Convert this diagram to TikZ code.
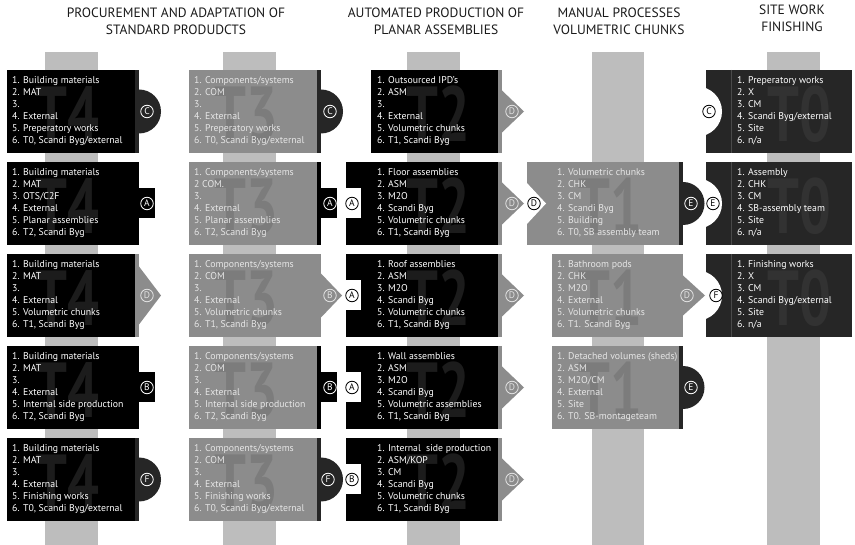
\documentclass[tikz,border=0pt]{standalone}
\usepackage{fontspec}
\usepackage{graphicx}
\setmainfont{PT Sans}
\definecolor{cBlk}{HTML}{000000}
\definecolor{cDark}{HTML}{262626}
\definecolor{cGrey}{HTML}{8C8C8C}
\definecolor{cBar}{HTML}{BDBDBD}
\definecolor{cBigB}{HTML}{1C1C1C}
\definecolor{cBigG}{HTML}{7C7C7C}
\definecolor{cBigD}{HTML}{323232}
\definecolor{cTxtG}{HTML}{E6E6E6}
\definecolor{cLight}{HTML}{E2E2E2}
\definecolor{cHdr}{HTML}{1A1A1A}
\definecolor{cSep}{HTML}{4A4A4A}
\newcommand\sixl[6]{\begin{tabular}[t]{@{}l@{}}#1\\#2\\#3\\#4\\#5\\#6\end{tabular}}
\newcommand\bigt[1]{\scalebox{0.72}[1]{\bfseries #1}}
\newcommand\Bx[4]{\fill[#4] (#1,#3) rectangle (#2,#3+83);}
\newcommand\Strip[3]{\fill[#3] (#1-4,#2) rectangle (#1,#2+83);}
\newcommand\mysemi[4]{\begin{scope}\clip (#1,#2-26) rectangle (#1+26,#2+26);\fill[#4] (#1,#2) circle[radius=#3pt];\end{scope}}
\newcommand\myrect[3]{\fill[#3] (#1,#2-15) rectangle (#1+16,#2+15);}
\newcommand\mychev[5]{\fill[#5] (#1,#2-#3) -- (#1+#4,#2) -- (#1,#2+#3) -- cycle;}
\newcommand\nsemi[2]{\begin{scope}\clip (706,#1) rectangle (760,#1+83);\fill[white] (697,#2) circle[radius=25pt];\end{scope}}
\newcommand\nrect[1]{\fill[white] (345,#1-15) rectangle (361,#1+15);}
\begin{document}
\begin{tikzpicture}[x=1pt,y=-1pt,
  txt/.style={inner sep=0pt, anchor=base west, font=\fontsize{9.8}{12}\selectfont},
  big/.style={inner sep=0pt, anchor=base, font=\fontsize{78}{78}\selectfont},
  hdr/.style={inner sep=0pt, anchor=base, font=\fontsize{13.5}{17}\selectfont, text=cHdr},
  cl/.style={circle, draw=#1, text=#1, inner sep=0pt, minimum size=12.5pt, line width=0.8pt, font=\fontsize{9.5}{9.5}\selectfont}]
\useasboundingbox[fill=white] (0,0) rectangle (855,545);
% headers
\node[hdr] (h1) at (176,18) {\begin{tabular}[t]{@{}c@{}}PROCUREMENT AND ADAPTATION OF\\STANDARD PRODUDCTS\end{tabular}};
\node[hdr] (h2) at (436,18) {\begin{tabular}[t]{@{}c@{}}AUTOMATED PRODUCTION OF\\PLANAR ASSEMBLIES\end{tabular}};
\node[hdr] (h3) at (619,18) {\begin{tabular}[t]{@{}c@{}}MANUAL PROCESSES\\VOLUMETRIC CHUNKS\end{tabular}};
\node[hdr] (h4) at (792,15) {\begin{tabular}[t]{@{}c@{}}SITE WORK\\FINISHING\end{tabular}};
% bars
\fill[cBar] (45,52) rectangle (98,545);
\fill[cBar] (223,52) rectangle (276,545);
\fill[cBar] (407,52) rectangle (460,545);
\fill[cBar] (592,52) rectangle (644,545);
\fill[cBar] (767,52) rectangle (820,545);
% boxes T4
\Bx{7}{139}{70}{cBlk}\Bx{7}{139}{162}{cBlk}\Bx{7}{139}{254}{cBlk}\Bx{7}{139}{346}{cBlk}\Bx{7}{139}{438}{cBlk}
% boxes T3
\Bx{189}{321}{70}{cGrey}\Bx{189}{321}{162}{cGrey}\Bx{189}{321}{254}{cGrey}\Bx{189}{321}{346}{cGrey}\Bx{189}{321}{438}{cGrey}
% boxes T2
\Bx{371}{502}{70}{cBlk}\Bx{346}{502}{162}{cBlk}\Bx{346}{502}{254}{cBlk}\Bx{346}{502}{346}{cBlk}\Bx{346}{502}{438}{cBlk}
% boxes T1
\Bx{527}{683}{162}{cGrey}\Bx{552}{683}{254}{cGrey}\Bx{552}{683}{346}{cGrey}
% boxes T0
\Bx{706}{852}{70}{cDark}\Bx{706}{852}{162}{cDark}\Bx{706}{852}{254}{cDark}
% notches
\nrect{203.5}\nrect{295.5}\nrect{387.5}\nrect{479.5}
\fill[white] (526,182) -- (546,203.5) -- (526,225) -- cycle;
\nsemi{70}{111.5}\nsemi{162}{203.5}\nsemi{254}{295.5}
\draw[cSep, line width=0.8pt] (731,70) -- (731,153);
\draw[cSep, line width=0.8pt] (731,162) -- (731,245);
\draw[cSep, line width=0.8pt] (731,254) -- (731,337);
% tabs T4
\Strip{139}{70}{cDark}\mysemi{139}{111.5}{22}{cDark}
\myrect{139}{203.5}{cBlk}
\Strip{139}{254}{cGrey}\mychev{139}{295.5}{29}{22}{cGrey}
\myrect{139}{387.5}{cBlk}
\Strip{139}{438}{cDark}\mysemi{139}{479.5}{22}{cDark}
% tabs T3
\Strip{321}{70}{cDark}\mysemi{321}{111.5}{22}{cDark}
\Strip{321}{162}{cBlk}\myrect{321}{203.5}{cBlk}
\mychev{321}{295.5}{22}{21}{cGrey}
\Strip{321}{346}{cBlk}\myrect{321}{387.5}{cBlk}
\Strip{321}{438}{cDark}\mysemi{321}{479.5}{22}{cDark}
% tabs T2
\Strip{502}{70}{cGrey}\mychev{502}{111.5}{21}{22}{cGrey}
\Strip{502}{162}{cGrey}\mychev{502}{203.5}{21}{22}{cGrey}
\Strip{502}{254}{cGrey}\mychev{502}{295.5}{21}{22}{cGrey}
\Strip{502}{346}{cGrey}\mychev{502}{387.5}{21}{22}{cGrey}
\Strip{502}{438}{cGrey}\mychev{502}{479.5}{21}{22}{cGrey}
% tabs T1
\Strip{683}{162}{cDark}\mysemi{683}{203.5}{21.5}{cDark}
\mychev{683}{295.5}{20}{22}{cGrey}
\Strip{683}{346}{cDark}\mysemi{683}{387.5}{21.5}{cDark}
% big labels
\foreach \t/\n in {70/1,162/2,254/3,346/4,438/5}{
  \node[big, text=cBigB] (b4\n) at (67,\t+72) {\bigt{T4}};
  \node[big, text=cBigG] (b3\n) at (246,\t+72) {\bigt{T3}};
  \node[big, text=cBigB] (b2\n) at (438,\t+72) {\bigt{T2}};
}
\node[big, text=cBigG] (b12) at (610,234) {\bigt{T1}};
\node[big, text=cBigG] (b13) at (610,326) {\bigt{T1}};
\node[big, text=cBigG] (b14) at (610,418) {\bigt{T1}};
\node[big, text=cBigD] (b01) at (799,142) {\bigt{T0}};
\node[big, text=cBigD] (b02) at (799,234) {\bigt{T0}};
\node[big, text=cBigD] (b03) at (799,326) {\bigt{T0}};
% texts T4
\node[txt, text=white] (t41) at (12,84) {\sixl{1. Building materials}{2. MAT}{3.}{4. External}{5. Preperatory works}{6. T0, Scandi Byg/external}};
\node[txt, text=white] (t42) at (12,176) {\sixl{1. Building materials}{2. MAT}{3. OTS/C2F}{4. External}{5. Planar assemblies}{6. T2, Scandi Byg}};
\node[txt, text=white] (t43) at (12,268) {\sixl{1. Building materials}{2. MAT}{3.}{4. External}{5. Volumetric chunks}{6. T1, Scandi Byg}};
\node[txt, text=white] (t44) at (12,360) {\sixl{1. Building materials}{2. MAT}{3.}{4. External}{5. Internal side production}{6. T2, Scandi Byg}};
\node[txt, text=white] (t45) at (12,452) {\sixl{1. Building materials}{2. MAT}{3.}{4. External}{5. Finishing works}{6. T0, Scandi Byg/external}};
% texts T3
\node[txt, text=cTxtG] (t31) at (194,84) {\sixl{1. Components/systems}{2. COM}{3.}{4. External}{5. Preperatory works}{6. T0, Scandi Byg/external}};
\node[txt, text=cTxtG] (t32) at (194,176) {\sixl{1. Components/systems}{2 COM.}{3.}{4. External}{5. Planar assemblies}{6. T2, Scandi Byg}};
\node[txt, text=cTxtG] (t33) at (194,268) {\sixl{1. Components/systems}{2. COM}{3.}{4. External}{5. Volumetric chunks}{6. T1, Scandi Byg}};
\node[txt, text=cTxtG] (t34) at (194,360) {\sixl{1. Components/systems}{2. COM}{3.}{4. External}{5. Internal side production}{6. T2, Scandi Byg}};
\node[txt, text=cTxtG] (t35) at (194,452) {\sixl{1. Components/systems}{2. COM}{3.}{4. External}{5. Finishing works}{6. T0, Scandi Byg/external}};
% texts T2
\node[txt, text=white] (t21) at (377,84) {\sixl{1. Outsourced IPD’s}{2. ASM}{3.}{4. External}{5. Volumetric chunks}{6. T1, Scandi Byg}};
\node[txt, text=white] (t22) at (377,176) {\sixl{1. Floor assemblies}{2. ASM}{3. M2O}{4. Scandi Byg}{5. Volumetric chunks}{6. T1, Scandi Byg}};
\node[txt, text=white] (t23) at (377,268) {\sixl{1. Roof assemblies}{2. ASM}{3. M2O}{4. Scandi Byg}{5. Volumetric chunks}{6. T1, Scandi Byg}};
\node[txt, text=white] (t24) at (377,360) {\sixl{1. Wall assemblies}{2. ASM}{3. M2O}{4. Scandi Byg}{5. Volumetric assemblies}{6. T1, Scandi Byg}};
\node[txt, text=white] (t25) at (377,452) {\sixl{1. Internal\ \ side production}{2. ASM/KOP}{3. CM}{4. Scandi Byg}{5. Volumetric chunks}{6. T1, Scandi Byg}};
% texts T1
\node[txt, text=cTxtG] (t12) at (557,176) {\sixl{1. Volumetric chunks}{2. CHK}{3. CM}{4. Scandi Byg}{5. Building}{6. T0, SB assembly team}};
\node[txt, text=cTxtG] (t13) at (557,268) {\sixl{1. Bathroom pods}{2. CHK}{3. M2O}{4. External}{5. Volumetric chunks}{6. T1. Scandi Byg}};
\node[txt, text=cTxtG] (t14) at (557,360) {\sixl{1. Detached volumes (sheds)}{2. ASM}{3. M2O/CM}{4. External}{5. Site}{6. T0. SB-montageteam}};
% texts T0
\node[txt, text=white] (t01) at (737,84) {\sixl{1. Preperatory works}{2. X}{3. CM}{4. Scandi Byg/external}{5. Site}{6. n/a}};
\node[txt, text=white] (t02) at (737,176) {\sixl{1. Assembly}{2. CHK}{3. CM}{4. SB-assembly team}{5. Site}{6. n/a}};
\node[txt, text=white] (t03) at (737,268) {\sixl{1. Finishing works}{2. X}{3. CM}{4. Scandi Byg/external}{5. Site}{6. n/a}};
% circled letters
\node[cl=white] (c41) at (147,111.5) {C};
\node[cl=white] (c42) at (147,203.5) {A};
\node[cl=cLight] (c43) at (147,295.5) {D};
\node[cl=white] (c44) at (147,387.5) {B};
\node[cl=white] (c45) at (147,479.5) {F};
\node[cl=white] (c31) at (330,111.5) {C};
\node[cl=white] (c32) at (330,203.5) {A};
\node[cl=cLight] (c33) at (330,295.5) {B};
\node[cl=white] (c34) at (330,387.5) {B};
\node[cl=white] (c35) at (328,479.5) {F};
\node[cl=black] (n22) at (352,203.5) {A};
\node[cl=black] (n23) at (352,295.5) {A};
\node[cl=black] (n24) at (352,387.5) {A};
\node[cl=black] (n25) at (352,479.5) {B};
\node[cl=cLight] (c21) at (512,111.5) {D};
\node[cl=cLight] (c22) at (512,203.5) {D};
\node[cl=cLight] (c23) at (512,295.5) {D};
\node[cl=cLight] (c24) at (512,387.5) {D};
\node[cl=cLight] (c25) at (512,479.5) {D};
\node[cl=black] (n12) at (534,203.5) {D};
\node[cl=white] (c12) at (691,203.5) {E};
\node[cl=cLight] (c13) at (687,295.5) {D};
\node[cl=white] (c14) at (691,387.5) {E};
\node[cl=black] (n01) at (709,111.5) {C};
\node[cl=black] (n02) at (713,203.5) {E};
\node[cl=black] (n03) at (716,295.5) {F};
\end{tikzpicture}
\end{document}
